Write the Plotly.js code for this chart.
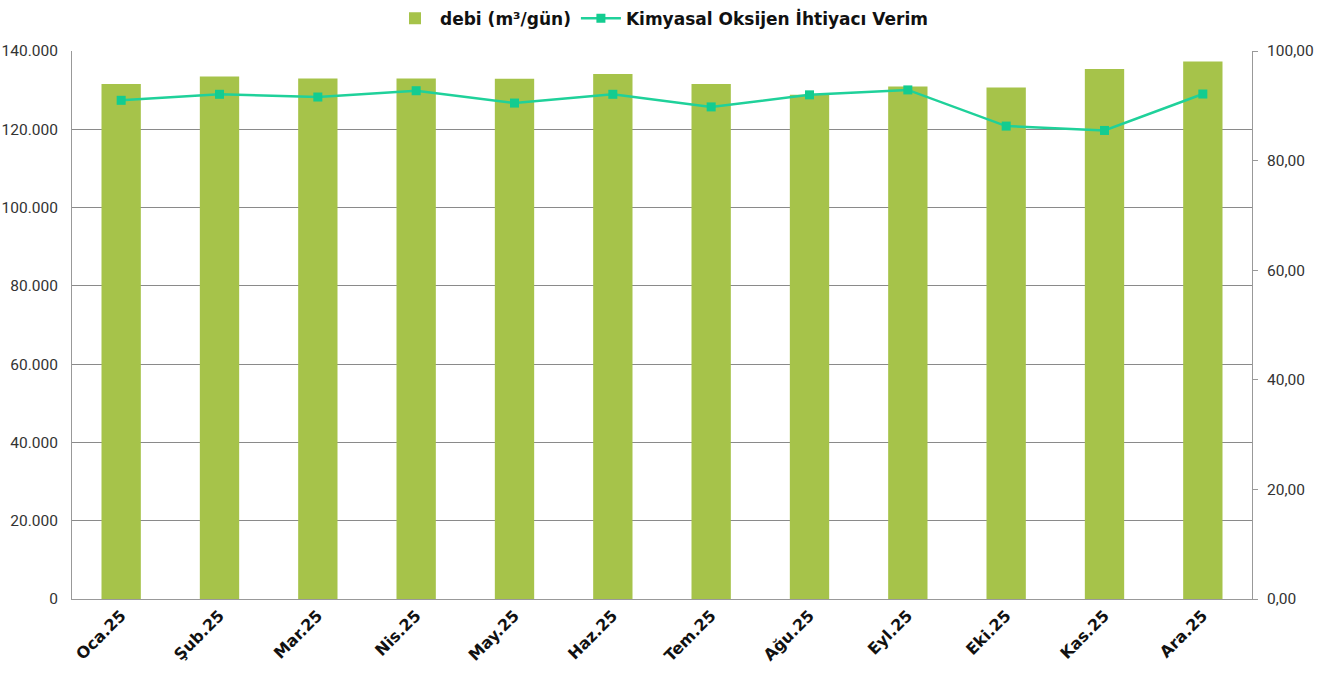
<!DOCTYPE html>
<html>
<head>
<meta charset="utf-8">
<script src="https://cdn.plot.ly/plotly-3.0.1.min.js"></script>
<style>html,body{margin:0;padding:0;background:#fff;}#chart{width:1329px;height:678px;}</style>
</head>
<body>
<div id="chart"></div>
<script>
const months = ["Oca.25","Şub.25","Mar.25","Nis.25","May.25","Haz.25","Tem.25","Ağu.25","Eyl.25","Eki.25","Kas.25","Ara.25"];
const debi = [131600, 133500, 133000, 133000, 132900, 134100, 131600, 128800, 130900, 130700, 135400, 137300];
const verim = [91.0, 92.1, 91.6, 92.75, 90.5, 92.1, 89.8, 92.0, 92.9, 86.3, 85.5, 92.15];
const leftTicks = [0, 20000, 40000, 60000, 80000, 100000, 120000, 140000];
const rightTicks = [0, 20, 40, 60, 80, 100];

const tickFont = {family: "'Liberation Sans Narrow', 'Roboto', sans-serif", size: 15.5, color: '#333'};
const legendFont = {family: "'DejaVu Sans', sans-serif", size: 17, color: '#111', weight: 700};
const xFont = {family: "'DejaVu Sans', sans-serif", size: 16, color: '#111', weight: 700};

const data = [
  {type: 'bar', x: months, y: debi, name: 'debi (m³/gün)', marker: {color: '#a6c34a'}, yaxis: 'y'},
  {type: 'scatter', mode: 'lines+markers', x: months, y: verim, name: 'Kimyasal Oksijen İhtiyacı Verim',
   line: {color: '#1fd19a', width: 2.5}, marker: {symbol: 'square', size: 9, color: '#13cc90'}, yaxis: 'y2'}
];

const layout = {
  width: 1329, height: 678,
  margin: {l: 72, r: 77, t: 51, b: 79, autoexpand: false},
  paper_bgcolor: '#fff', plot_bgcolor: '#fff',
  separators: ',.',
  bargap: 0.6,
  showlegend: true,
  legend: {orientation: 'h', x: 0.5, xanchor: 'center', y: 1.092, yanchor: 'top', font: legendFont, itemwidth: 40, traceorder: 'normal'},
  xaxis: {
    range: [-0.5, 11.5],
    tickangle: -45, tickfont: xFont, showline: true, linecolor: '#999', linewidth: 1,
    showgrid: false, ticks: '', automargin: false
  },
  yaxis: {
    range: [0, 140000], tickvals: leftTicks, tickformat: ',d', tickfont: tickFont, ticklabelstandoff: 10,
    showgrid: true, gridcolor: '#8a8a8a', gridwidth: 1, showline: true, linecolor: '#999', zeroline: false,
    ticks: '', automargin: false
  },
  yaxis2: {
    range: [0, 100], tickvals: rightTicks, tickformat: '.2f', tickfont: tickFont, overlaying: 'y', side: 'right',
    showgrid: false, showline: true, linecolor: '#999', ticks: 'outside', ticklen: 5, tickcolor: '#999', zeroline: false,
    ticklabelstandoff: 6, automargin: false
  }
};

Plotly.newPlot('chart', data, layout, {displayModeBar: false});
</script>
</body>
</html>
